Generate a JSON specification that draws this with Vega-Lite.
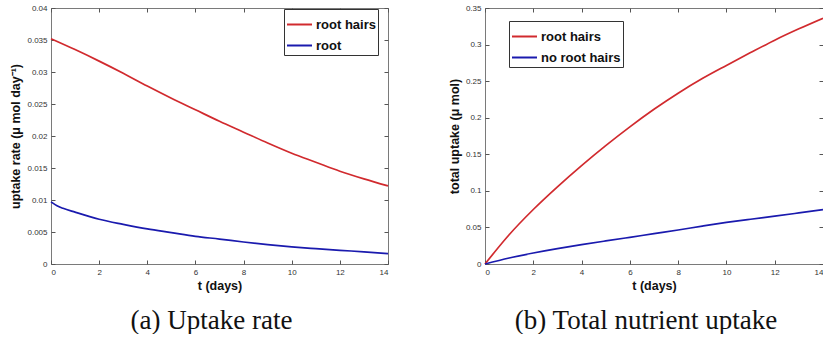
{
  "$schema": "https://vega.github.io/schema/vega-lite/v6.json",
  "background": "white",
  "padding": {"left": 9, "top": 3, "right": 0, "bottom": 0},
  "config": {
    "view": {"stroke": "#7a7a7a", "strokeWidth": 1},
    "axis": {
      "domain": false,
      "grid": false,
      "tickColor": "#555555",
      "tickSize": -4,
      "labelPadding": 8,
      "labelFont": "Liberation Sans",
      "labelFontSize": 8,
      "labelColor": "#333333",
      "titleFont": "Liberation Sans",
      "titleFontSize": 12.5,
      "titleFontWeight": "bold",
      "titleColor": "#111111"
    },
    "legend": {
      "orient": "none",
      "title": null,
      "strokeColor": "#333333",
      "fillColor": "white",
      "padding": 2,
      "symbolType": "stroke",
      "symbolSize": 625,
      "symbolStrokeWidth": 2,
      "rowPadding": -3,
      "labelFont": "Liberation Sans",
      "labelFontSize": 13,
      "labelFontWeight": "bold",
      "labelColor": "#111111",
      "labelOffset": 3
    },
    "title": {
      "font": "Liberation Serif",
      "fontSize": 27,
      "fontWeight": "normal",
      "color": "#111111",
      "orient": "bottom",
      "anchor": "middle",
      "offset": 16,
      "dx": -8
    }
  },
  "datasets": {
    "rate": [
      {"t": 0, "value": 0.0352, "series": "root hairs"},
      {"t": 1, "value": 0.0335, "series": "root hairs"},
      {"t": 2, "value": 0.0317, "series": "root hairs"},
      {"t": 3, "value": 0.0298, "series": "root hairs"},
      {"t": 4, "value": 0.0278, "series": "root hairs"},
      {"t": 5, "value": 0.0259, "series": "root hairs"},
      {"t": 6, "value": 0.0241, "series": "root hairs"},
      {"t": 7, "value": 0.0223, "series": "root hairs"},
      {"t": 8, "value": 0.0206, "series": "root hairs"},
      {"t": 9, "value": 0.0189, "series": "root hairs"},
      {"t": 10, "value": 0.0173, "series": "root hairs"},
      {"t": 11, "value": 0.0159, "series": "root hairs"},
      {"t": 12, "value": 0.0145, "series": "root hairs"},
      {"t": 13, "value": 0.0133, "series": "root hairs"},
      {"t": 14, "value": 0.0122, "series": "root hairs"},
      {"t": 0, "value": 0.0097, "series": "root"},
      {"t": 0.25, "value": 0.0091, "series": "root"},
      {"t": 0.5, "value": 0.0087, "series": "root"},
      {"t": 1, "value": 0.0081, "series": "root"},
      {"t": 2, "value": 0.0070, "series": "root"},
      {"t": 3, "value": 0.0062, "series": "root"},
      {"t": 4, "value": 0.00548, "series": "root"},
      {"t": 5, "value": 0.0049, "series": "root"},
      {"t": 6, "value": 0.00432, "series": "root"},
      {"t": 7, "value": 0.0039, "series": "root"},
      {"t": 8, "value": 0.00344, "series": "root"},
      {"t": 9, "value": 0.00303, "series": "root"},
      {"t": 10, "value": 0.00268, "series": "root"},
      {"t": 11, "value": 0.0024, "series": "root"},
      {"t": 12, "value": 0.00214, "series": "root"},
      {"t": 13, "value": 0.0019, "series": "root"},
      {"t": 14, "value": 0.00163, "series": "root"}
    ],
    "total": [
      {"t": 0, "value": 0, "series": "root hairs"},
      {"t": 1, "value": 0.040, "series": "root hairs"},
      {"t": 2, "value": 0.0745, "series": "root hairs"},
      {"t": 3, "value": 0.1055, "series": "root hairs"},
      {"t": 4, "value": 0.1345, "series": "root hairs"},
      {"t": 5, "value": 0.1618, "series": "root hairs"},
      {"t": 6, "value": 0.1875, "series": "root hairs"},
      {"t": 7, "value": 0.2115, "series": "root hairs"},
      {"t": 8, "value": 0.2335, "series": "root hairs"},
      {"t": 9, "value": 0.2535, "series": "root hairs"},
      {"t": 10, "value": 0.2715, "series": "root hairs"},
      {"t": 11, "value": 0.289, "series": "root hairs"},
      {"t": 12, "value": 0.306, "series": "root hairs"},
      {"t": 13, "value": 0.3215, "series": "root hairs"},
      {"t": 14, "value": 0.336, "series": "root hairs"},
      {"t": 0, "value": 0, "series": "no root hairs"},
      {"t": 1, "value": 0.0082, "series": "no root hairs"},
      {"t": 2, "value": 0.0150, "series": "no root hairs"},
      {"t": 3, "value": 0.0210, "series": "no root hairs"},
      {"t": 4, "value": 0.0264, "series": "no root hairs"},
      {"t": 5, "value": 0.0315, "series": "no root hairs"},
      {"t": 6, "value": 0.0365, "series": "no root hairs"},
      {"t": 7, "value": 0.0415, "series": "no root hairs"},
      {"t": 8, "value": 0.0465, "series": "no root hairs"},
      {"t": 9, "value": 0.0518, "series": "no root hairs"},
      {"t": 10, "value": 0.0568, "series": "no root hairs"},
      {"t": 11, "value": 0.0612, "series": "no root hairs"},
      {"t": 12, "value": 0.0654, "series": "no root hairs"},
      {"t": 13, "value": 0.0698, "series": "no root hairs"},
      {"t": 14, "value": 0.0743, "series": "no root hairs"}
    ]
  },
  "hconcat": [
    {
      "width": 337,
      "height": 256,
      "title": {"text": "(a) Uptake rate"},
      "data": {"name": "rate"},
      "layer": [
        {
          "mark": {"type": "line", "strokeWidth": 1.7, "interpolate": "monotone"},
          "encoding": {
            "x": {"field": "t", "type": "quantitative", "scale": {"domain": [0, 14], "nice": false}, "axis": {"title": "t (days)", "values": [0, 2, 4, 6, 8, 10, 12, 14], "titlePadding": 3}},
            "y": {"field": "value", "type": "quantitative", "scale": {"domain": [0, 0.04], "nice": false}, "axis": {"title": "uptake rate (μ mol day⁻¹)", "values": [0, 0.005, 0.01, 0.015, 0.02, 0.025, 0.03, 0.035, 0.04], "format": "~g", "titlePadding": 4}},
            "color": {"field": "series", "type": "nominal", "scale": {"domain": ["root hairs", "root"], "range": ["#d12a2e", "#1a1aae"]}, "legend": {"legendX": 233, "legendY": 1}}
          }
        },
        {
          "mark": {"type": "line", "opacity": 0},
          "encoding": {
            "x": {"field": "t", "type": "quantitative", "scale": {"domain": [0, 14], "nice": false}, "axis": {"orient": "top", "labels": false, "title": null, "values": [0, 2, 4, 6, 8, 10, 12, 14]}},
            "y": {"field": "value", "type": "quantitative", "scale": {"domain": [0, 0.04], "nice": false}, "axis": {"orient": "right", "labels": false, "title": null, "values": [0, 0.005, 0.01, 0.015, 0.02, 0.025, 0.03, 0.035, 0.04]}},
            "detail": {"field": "series"}
          }
        }
      ],
      "resolve": {"axis": {"x": "independent", "y": "independent"}}
    },
    {
      "width": 338,
      "height": 256,
      "title": {"text": "(b) Total nutrient uptake"},
      "data": {"name": "total"},
      "layer": [
        {
          "mark": {"type": "line", "strokeWidth": 1.7, "interpolate": "monotone"},
          "encoding": {
            "x": {"field": "t", "type": "quantitative", "scale": {"domain": [0, 14], "nice": false}, "axis": {"title": "t (days)", "values": [0, 2, 4, 6, 8, 10, 12, 14], "titlePadding": 3}},
            "y": {"field": "value", "type": "quantitative", "scale": {"domain": [0, 0.35], "nice": false}, "axis": {"title": "total uptake (μ mol)", "values": [0, 0.05, 0.1, 0.15, 0.2, 0.25, 0.3, 0.35], "format": "~g", "titlePadding": 4}},
            "color": {"field": "series", "type": "nominal", "scale": {"domain": ["root hairs", "no root hairs"], "range": ["#d12a2e", "#1a1aae"]}, "legend": {"legendX": 24, "legendY": 13}}
          }
        },
        {
          "mark": {"type": "line", "opacity": 0},
          "encoding": {
            "x": {"field": "t", "type": "quantitative", "scale": {"domain": [0, 14], "nice": false}, "axis": {"orient": "top", "labels": false, "title": null, "values": [0, 2, 4, 6, 8, 10, 12, 14]}},
            "y": {"field": "value", "type": "quantitative", "scale": {"domain": [0, 0.35], "nice": false}, "axis": {"orient": "right", "labels": false, "title": null, "values": [0, 0.05, 0.1, 0.15, 0.2, 0.25, 0.3, 0.35]}},
            "detail": {"field": "series"}
          }
        }
      ],
      "resolve": {"axis": {"x": "independent", "y": "independent"}}
    }
  ],
  "spacing": 97,
  "bounds": "flush",
  "resolve": {"scale": {"color": "independent"}, "legend": {"color": "independent"}}
}
